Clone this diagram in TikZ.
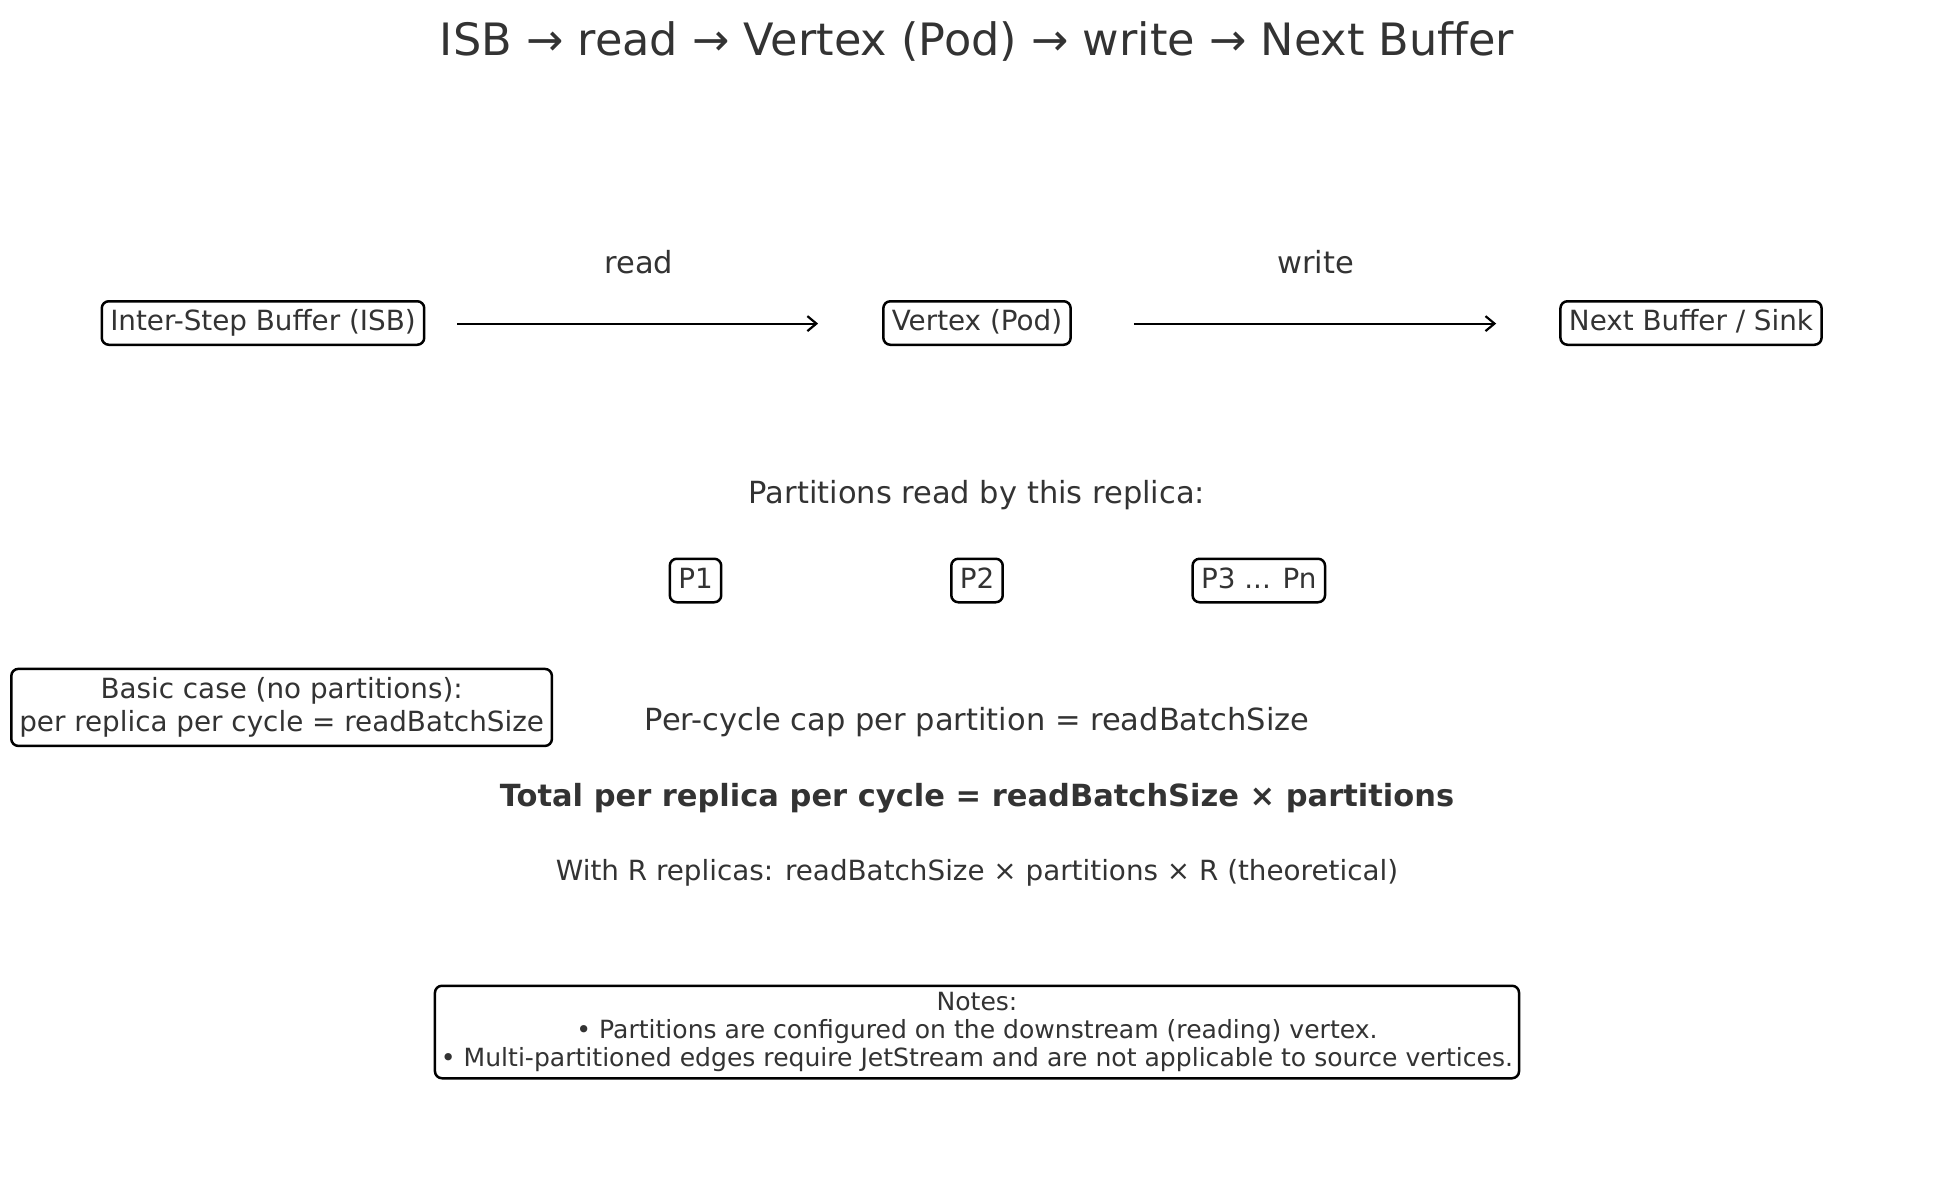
\documentclass[tikz,border=0pt]{standalone}
\usepackage{fontspec}
\setmainfont{DejaVu Sans}
\usetikzlibrary{arrows.meta}
\definecolor{txt}{HTML}{333333}
\begin{document}
\begin{tikzpicture}[x=1pt,y=-1pt,
  box/.style={draw=black, line width=2.5pt, rounded corners=7pt, fill=white, text=txt,
    inner xsep=8.5pt, inner ysep=0pt, minimum height=43.5pt, text height=21.7pt, text depth=6.1pt,
    font=\fontsize{27.8}{33}\selectfont},
  mbox/.style={draw=black, line width=2.5pt, rounded corners=7pt, fill=white, text=txt,
    inner xsep=8pt, inner ysep=0pt, align=center},
  lbl/.style={text=txt, inner sep=0pt, text height=28.7pt, text depth=7.3pt, font=\fontsize{30.5}{36}\selectfont},
  flow/.style={line width=2.2pt, -{Straight Barb[length=9pt,width=15pt,line width=2.2pt]}}]
\useasboundingbox (0,0) rectangle (1937,1180);

\node[lbl, text height=41.9pt, text depth=10.7pt, font=\fontsize{44.6}{52}\selectfont] (title) at (977,39.5)
  {ISB → read → Vertex (Pod) → write → Next Buffer};

\node[box] (isb) at (263,323) {Inter-Step Buffer (ISB)};
\node[box] (vtx) at (977,323) {Vertex (Pod)};
\node[box] (nxt) at (1691,323) {Next Buffer / Sink};

\draw[flow, shorten <=32pt, shorten >=64pt] ([yshift=-0.6pt]isb.east) -- ([yshift=-0.6pt]vtx.west);
\draw[flow, shorten <=62pt, shorten >=63pt] ([yshift=-0.6pt]vtx.east) -- ([yshift=-0.6pt]nxt.west);

\node[lbl] (rd) at (638.7,263) {read};
\node[lbl] (wr) at (1315.6,263) {write};

\node[lbl] (parts) at (977,492.9) {Partitions read by this replica:};

\node[box] (p1) at (695.5,580.5) {P1};
\node[box] (p2) at (977,580.5) {P2};
\node[box] (p3) at (1258.8,580.5) {P3 ... Pn};

\node[mbox, minimum height=77pt, font=\fontsize{27.8}{33.4}\selectfont] (basic) at (281.6,707.4)
  {Basic case (no partitions):\\per replica per cycle = readBatchSize};

\node[lbl] (cap) at (977,720.2) {Per-cycle cap per partition = readBatchSize};
\node[lbl, font=\fontsize{30.5}{36}\selectfont\bfseries] (total) at (977,795.5)
  {Total per replica per cycle = readBatchSize × partitions};
\node[lbl, text height=26.1pt, text depth=6.7pt, font=\fontsize{27.8}{33}\selectfont] (withr) at (977,870.9)
  {With R replicas: readBatchSize × partitions × R (theoretical)};

\node[mbox, minimum height=92.5pt, inner xsep=6pt, font=\fontsize{25.07}{27.8}\selectfont] (notes) at (977,1032)
  {Notes:\\• Partitions are configured on the downstream (reading) vertex.\\• Multi-partitioned edges require JetStream and are not applicable to source vertices.};
\end{tikzpicture}
\end{document}
